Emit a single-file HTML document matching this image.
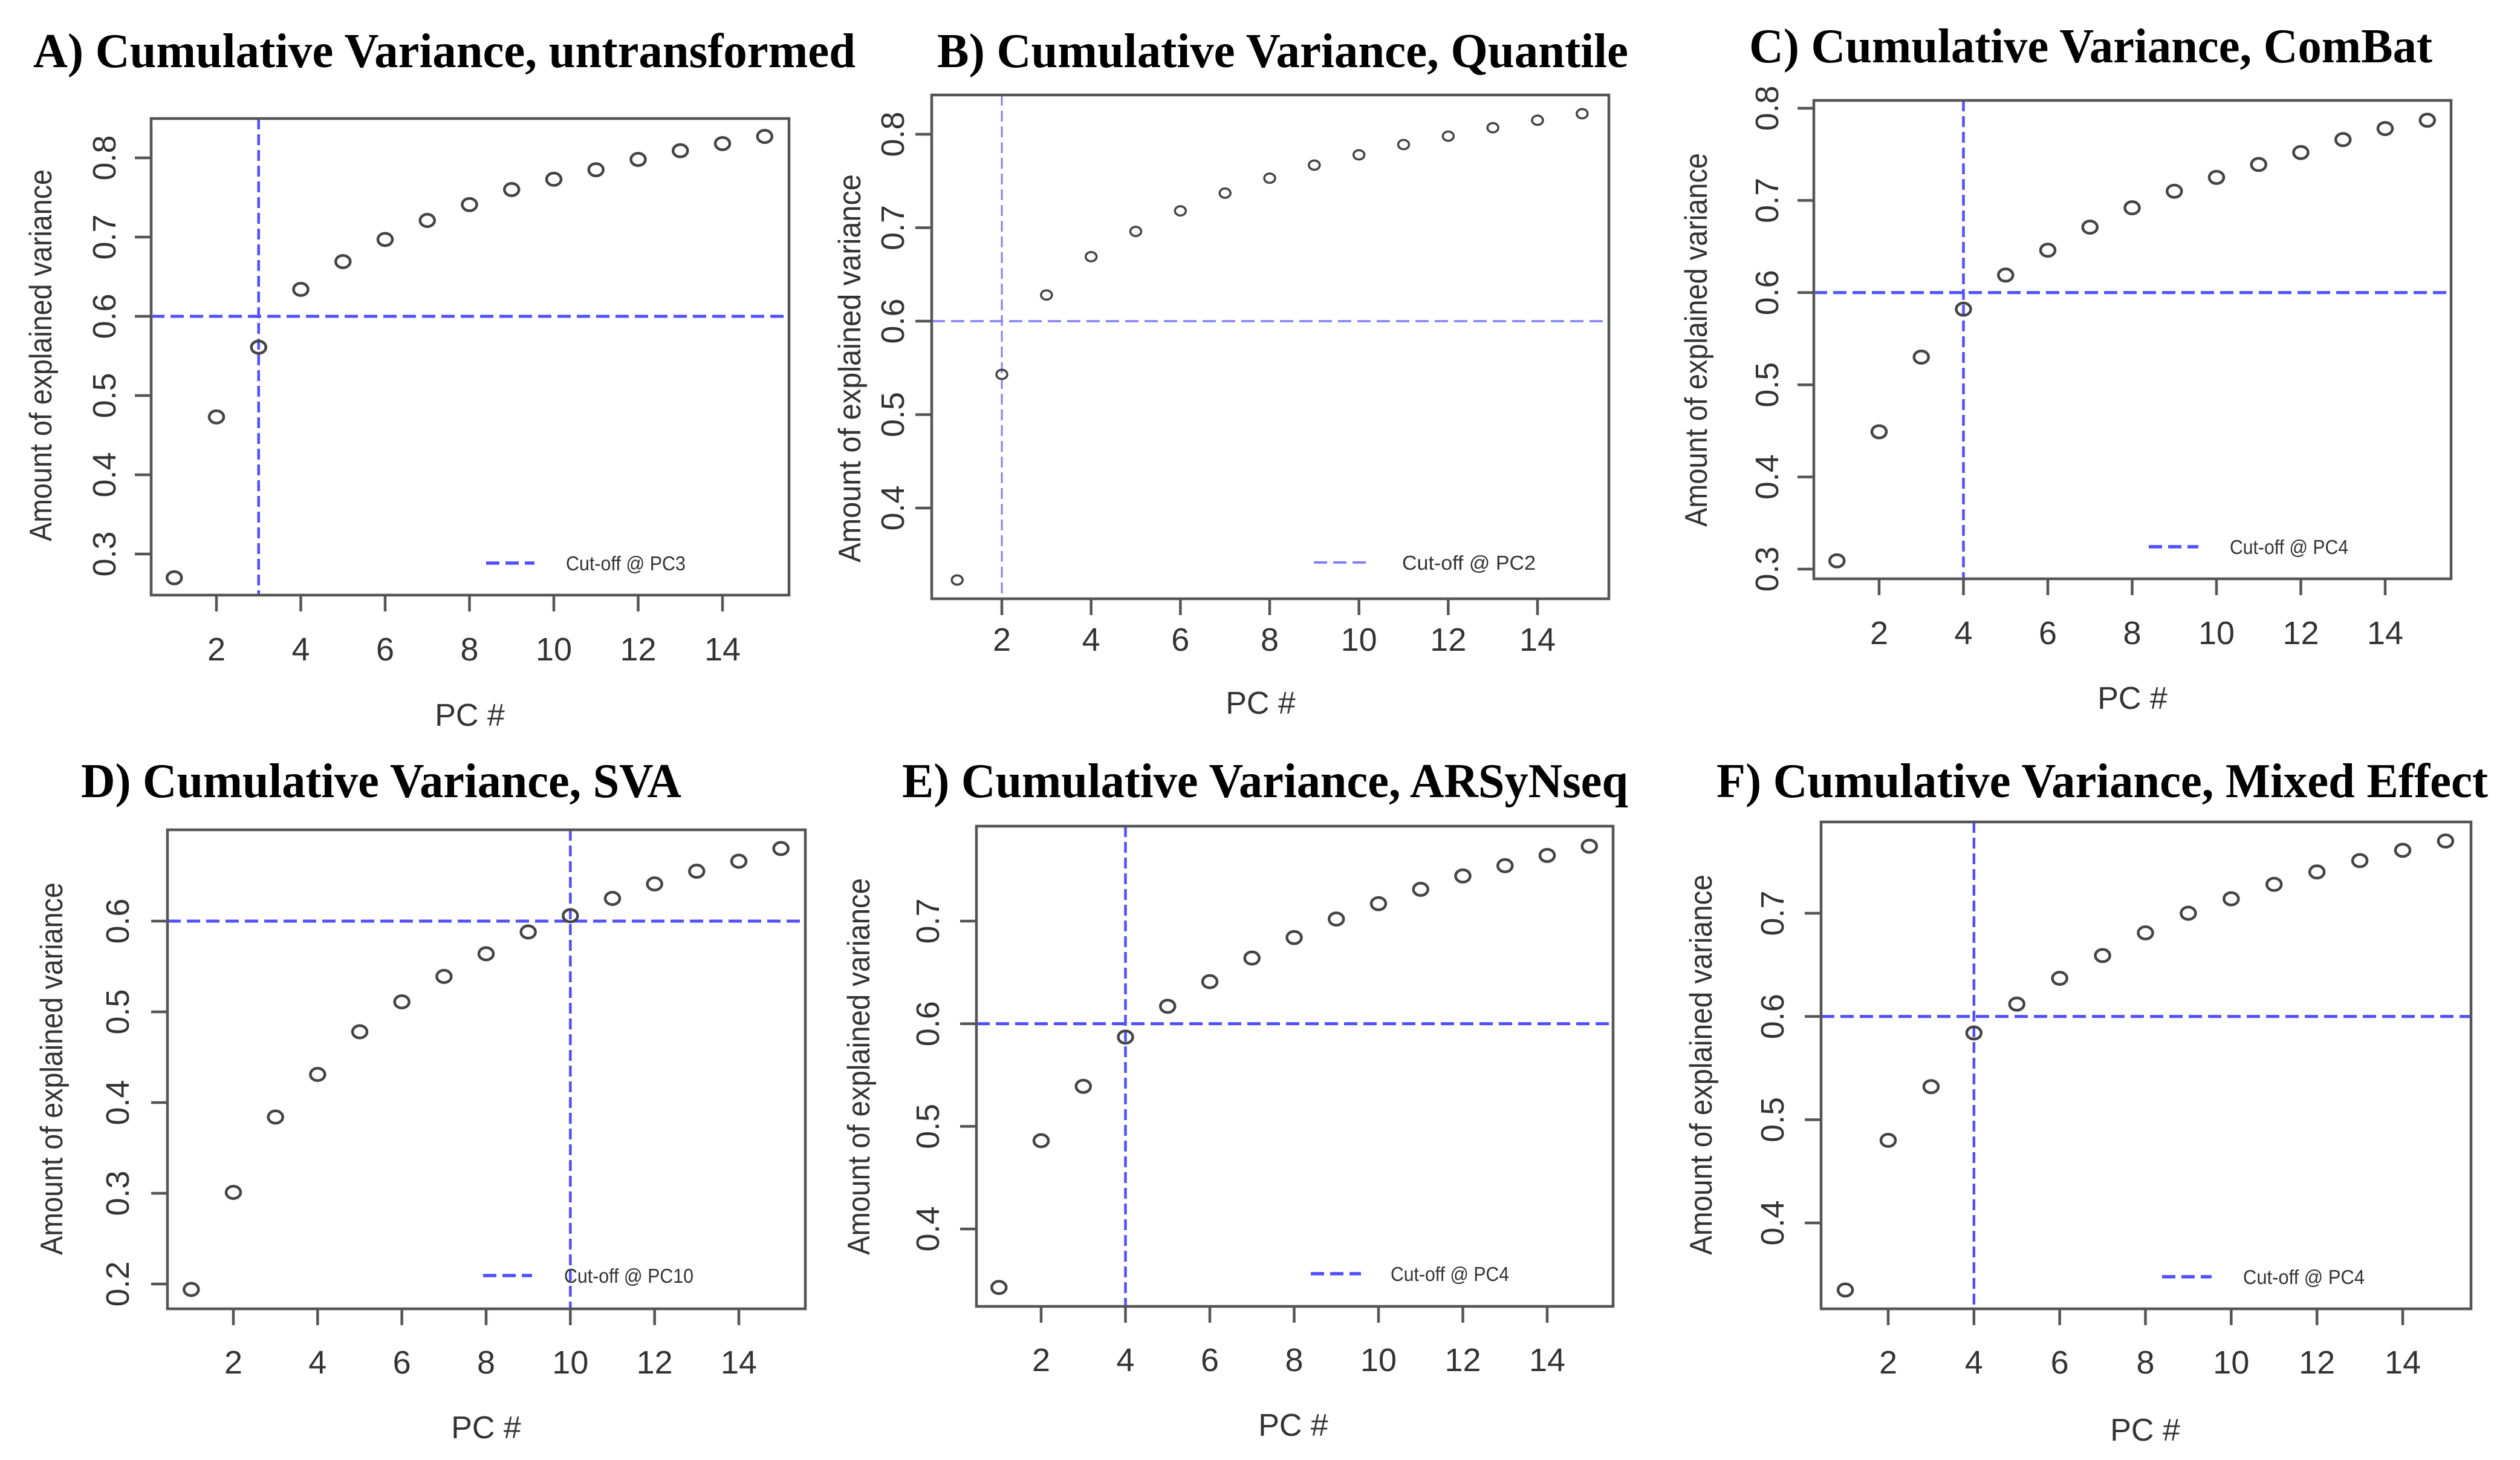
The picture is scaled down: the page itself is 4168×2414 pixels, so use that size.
<!DOCTYPE html>
<html><head><meta charset="utf-8"><style>
html,body{margin:0;padding:0;background:#fff;}
svg{display:block;}
</style></head><body>
<svg id="fig" width="4168" height="2414" viewBox="0 0 4168 2414" xmlns="http://www.w3.org/2000/svg"></svg>
<script>
// ---- data ----
const pcs = [1,2,3,4,5,6,7,8,9,10,11,12,13,14,15];
const xTicks = [2,4,6,8,10,12,14];
const valsA = [0.270,0.473,0.561,0.634,0.669,0.697,0.721,0.741,0.760,0.773,0.785,0.798,0.809,0.818,0.827];
const valsB = [0.323,0.543,0.628,0.669,0.696,0.718,0.737,0.753,0.767,0.778,0.789,0.798,0.807,0.815,0.822];
const valsC = [0.309,0.449,0.530,0.582,0.619,0.646,0.671,0.692,0.710,0.725,0.739,0.752,0.766,0.778,0.787];
const valsD = [0.194,0.301,0.384,0.431,0.478,0.511,0.539,0.564,0.588,0.606,0.625,0.641,0.655,0.666,0.680];
const valsE = [0.343,0.486,0.539,0.587,0.617,0.641,0.664,0.684,0.702,0.717,0.731,0.744,0.754,0.764,0.773];
const valsF = [0.335,0.480,0.532,0.584,0.612,0.637,0.659,0.681,0.700,0.714,0.728,0.740,0.751,0.761,0.770];
const yTicksA = [0.3,0.4,0.5,0.6,0.7,0.8];
const yTicksB = [0.4,0.5,0.6,0.7,0.8];
const yTicksC = [0.3,0.4,0.5,0.6,0.7,0.8];
const yTicksD = [0.2,0.3,0.4,0.5,0.6];
const yTicksE = [0.4,0.5,0.6,0.7];
const yTicksF = [0.4,0.5,0.6,0.7];
const cutPC = [3,2,4,10,4,4];
const cutVar = 0.6;
const titles = ["A) Cumulative Variance, untransformed","B) Cumulative Variance, Quantile","C) Cumulative Variance, ComBat","D) Cumulative Variance, SVA","E) Cumulative Variance, ARSyNseq","F) Cumulative Variance, Mixed Effect"];

// ---- layout (pixel geometry) ----
const L = [
 {id:'a',vals:valsA,yt:yTicksA,bx0:250,bx1:1305,by0:196,by1:984,x2:358,x14:1195,ya:0.8,ypa:261,yb:0.3,ypb:916,
  tx:55,tx1:1415,ty:111,tly:1092,pcx:777,pcy:1200,ylx:67,yl0:280,yl1:895,tlx:172,lg0:804,lg1:884,lgy:931,ltx:936,ltw:198,r:12,thin:false},
 {id:'b',vals:valsB,yt:yTicksB,bx0:1541,bx1:2661,by0:157,by1:990,x2:1657,x14:2543,ya:0.8,ypa:222,yb:0.4,ypb:840,
  tx:1550,tx1:2693,ty:111,tly:1076,pcx:2085,pcy:1180,ylx:1405,yl0:288,yl1:930,tlx:1476,lg0:2173,lg1:2264,lgy:930,ltx:2319,ltw:221,r:9,thin:true},
 {id:'c',vals:valsC,yt:yTicksC,bx0:3000,bx1:4054,by0:166,by1:957,x2:3108,x14:3945,ya:0.8,ypa:179,yb:0.3,ypb:941,
  tx:2893,tx1:4023,ty:103,tly:1065,pcx:3527,pcy:1172,ylx:2805,yl0:253,yl1:871,tlx:2922,lg0:3554,lg1:3636,lgy:904,ltx:3688,ltw:196,r:12,thin:false},
 {id:'d',vals:valsD,yt:yTicksD,bx0:277,bx1:1332,by0:1372,by1:2164,x2:386,x14:1222,ya:0.6,ypa:1523,yb:0.2,ypb:2123,
  tx:134,tx1:1127,ty:1318,tly:2271,pcx:804,pcy:2378,ylx:85,yl0:1459,yl1:2075,tlx:194,lg0:799,lg1:880,lgy:2109,ltx:933,ltw:214,r:12,thin:false},
 {id:'e',vals:valsE,yt:yTicksE,bx0:1615,bx1:2668,by0:1366,by1:2160,x2:1722,x14:2559,ya:0.7,ypa:1523,yb:0.4,ypb:2032,
  tx:1492,tx1:2693,ty:1318,tly:2267,pcx:2139,pcy:2374,ylx:1420,yl0:1452,yl1:2075,tlx:1534,lg0:2168,lg1:2251,lgy:2106,ltx:2300,ltw:196,r:12,thin:false},
 {id:'f',vals:valsF,yt:yTicksF,bx0:3012,bx1:4087,by0:1359,by1:2164,x2:3123,x14:3974,ya:0.7,ypa:1510,yb:0.4,ypb:2022,
  tx:2839,tx1:4115,ty:1318,tly:2271,pcx:3548,pcy:2382,ylx:2813,yl0:1446,yl1:2075,tlx:2931,lg0:3576,lg1:3658,lgy:2111,ltx:3710,ltw:201,r:12,thin:false}
];

const NS = 'http://www.w3.org/2000/svg';
const svg = document.getElementById('fig');
function mk(tag, attrs, parent, txt){
  const e = document.createElementNS(NS, tag);
  for (const k in attrs) e.setAttribute(k, attrs[k]);
  if (txt !== undefined) e.textContent = txt;
  parent.appendChild(e);
  return e;
}
const SANS = '"Liberation Sans", Arial, sans-serif';
const SERIF = '"Liberation Serif", "Times New Roman", serif';

L.forEach((p, i) => {
  const xs = v => p.x2 + (v - 2) * (p.x14 - p.x2) / 12;
  const ys = v => p.ypa + (v - p.ya) * (p.ypb - p.ypa) / (p.yb - p.ya);
  const g = mk('g', {}, svg);
  
  

  const t = mk('text', {x:p.tx, y:p.ty, 'font-family':SERIF, 'font-weight':'bold', 'font-size':80, fill:'#000', textLength:(p.tx1-p.tx), lengthAdjust:'spacingAndGlyphs'}, g, titles[i]);
  
  

  const blue = p.thin ? '#8080ff' : '#5050ff';
  const bw = p.thin ? 3.5 : 5;
  const hl = mk('line', {x1:p.bx0, x2:p.bx1, y1:ys(cutVar), y2:ys(cutVar), stroke:blue, 'stroke-width':bw, 'stroke-dasharray':'22 10'}, g);
  
  
  const vl = mk('line', {x1:xs(cutPC[i]), x2:xs(cutPC[i]), y1:p.by0, y2:p.by1, stroke:blue, 'stroke-width':p.thin?3:4.5, 'stroke-dasharray':'18 8'}, g);
  
  

  const box = mk('rect', {x:p.bx0, y:p.by0, width:p.bx1-p.bx0, height:p.by1-p.by0, fill:'none', stroke:'#555', 'stroke-width':4.5}, g);
  
  

  xTicks.forEach(v => {
    const tk = mk('line', {x1:xs(v), x2:xs(v), y1:p.by1, y2:p.by1+27, stroke:'#555', 'stroke-width':4.5}, g);
    
    
    const tl = mk('text', {x:xs(v), y:p.tly, 'font-family':SANS, 'font-size':54, fill:'#333', 'text-anchor':'middle'}, g, String(v));
    
    
  });
  p.yt.forEach(v => {
    const tk = mk('line', {x1:p.bx0-27, x2:p.bx0, y1:ys(v), y2:ys(v), stroke:'#555', 'stroke-width':4.5}, g);
    
    
    const tl = mk('text', {x:0, y:0, transform:`translate(${p.tlx + 19},${ys(v)}) rotate(-90)`, 'font-family':SANS, 'font-size':54, fill:'#333', 'text-anchor':'middle'}, g, v.toFixed(1));
    
    
  });
  const xt = mk('text', {x:p.pcx, y:p.pcy, 'font-family':SANS, 'font-size':52, fill:'#333', 'text-anchor':'middle'}, g, 'PC #');
  
  
  const ymid = (p.yl0 + p.yl1) / 2;
  const yt = mk('text', {x:0, y:0, transform:`translate(${p.ylx + 18},${ymid}) rotate(-90)`, 'font-family':SANS, 'font-size':52, fill:'#333', 'text-anchor':'middle', textLength:(p.yl1-p.yl0), lengthAdjust:'spacingAndGlyphs'}, g, 'Amount of explained variance');
  
  

  pcs.forEach((pc, k) => {
    const c = mk('ellipse', {cx:xs(pc), cy:ys(p.vals[k]), rx:p.r, ry:p.r*0.85, fill:'none', stroke:'#444', 'stroke-width':p.thin?3.5:4.5}, g);
    
    
  });

  const lgl = mk('line', {x1:p.lg0, x2:p.lg1, y1:p.lgy, y2:p.lgy, stroke:blue, 'stroke-width':bw+0.5, 'stroke-dasharray':'22 10'}, g);
  
  
  const lgt = mk('text', {x:p.ltx, y:p.lgy + 12, 'font-family':SANS, 'font-size':33, fill:'#333', textLength:p.ltw, lengthAdjust:'spacingAndGlyphs'}, g, 'Cut-off @ PC' + cutPC[i]);
  
  
});
</script>
</body></html>
